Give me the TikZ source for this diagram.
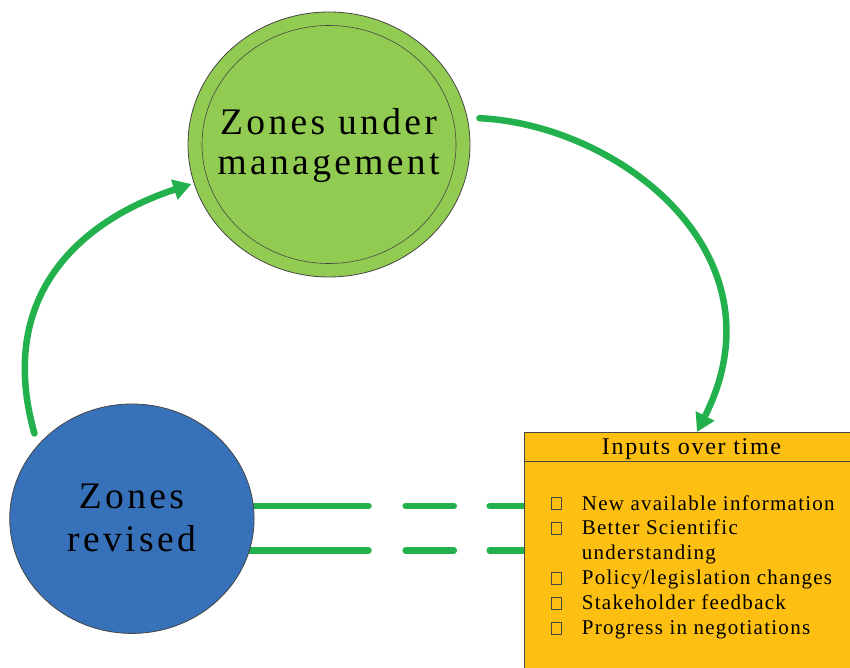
\documentclass[tikz,border=0pt]{standalone}
\usepackage{fontspec}
\setmainfont{Liberation Serif}
\newfontfamily\circfont{Liberation Serif}[LetterSpace=9]
\newfontfamily\headfont{Liberation Serif}[LetterSpace=7]
\newfontfamily\listfont{Liberation Serif}[LetterSpace=6]
\usetikzlibrary{shapes.geometric,arrows.meta,calc}
\pgfdeclarelayer{bg}
\pgfsetlayers{bg,main}
\definecolor{arrowgreen}{RGB}{34,177,76}
\definecolor{leafgreen}{RGB}{146,203,82}
\definecolor{zoneblue}{RGB}{55,113,185}
\definecolor{amber}{RGB}{253,191,17}
\definecolor{edgegray}{RGB}{70,70,70}
\begin{document}
\begin{tikzpicture}[x=1pt,y=1pt,
  zone/.style={ellipse, inner sep=0pt, draw=edgegray, line width=0.8pt},
  zonetext/.style={font=\circfont\fontsize{37.5}{40}\selectfont, anchor=base, inner sep=0pt, text=black},
  flow/.style={draw=arrowgreen, line width=6.5pt, line cap=round, -{Triangle[width=20pt,length=18pt]}},
  link/.style={draw=arrowgreen, line width=6.5pt, line cap=round, dash pattern=on 34.3pt off 35.9pt on 48.1pt off 37.2pt on 600pt},
  itemtext/.style={font=\listfont\fontsize{21}{25}\selectfont, anchor=base west, inner sep=0pt},
  bulletbox/.style={draw=edgegray, line width=0.7pt, minimum width=10pt, minimum height=12.3pt, inner sep=0pt, anchor=south west}
]
\useasboundingbox (0,0) rectangle (850,667);

\node[zone, fill=leafgreen, minimum width=282pt, minimum height=265pt] (mgmt) at (329,522.5) {};
\node[zone, minimum width=254pt, minimum height=238pt, line width=0.6pt] (mgmtin) at (329,522.5) {};
\node[zonetext] (t1) at (328.5,532) {Zones under};
\node[zonetext] (t2) at (328.5,492) {management};

\node[zone, fill=zoneblue, minimum width=244.4pt, minimum height=229.4pt] (rev) at (131.9,148.3) {};
\node[zonetext] (t3) at (131.5,159) {Zones};
\node[zonetext] (t4) at (131.5,115.5) {revised};

\node[draw=edgegray, line width=0.8pt, fill=amber, minimum width=340pt, minimum height=250pt, anchor=north west, inner sep=0pt] (box) at (524,235) {};
\coordinate (hdl) at ($(box.north west)+(0,-29)$);
\draw[edgegray, line width=0.8pt] (hdl) -- (hdl -| box.east);
\node[font=\headfont\fontsize{24}{28}\selectfont, anchor=base, inner sep=0pt] (head) at (691.5,212.7) {Inputs over time};

\node[bulletbox] (b1) at (551,157) {};
\node[itemtext] (i1) at (581.7,157) {New available information};
\node[bulletbox] (b2) at (551,132.1) {};
\node[itemtext] (i2) at (581.7,132.1) {Better Scientific};
\node[itemtext] (i2b) at (581.7,107.2) {understanding};
\node[bulletbox] (b3) at (551,82.3) {};
\node[itemtext] (i3) at (581.7,82.3) {Policy/legislation changes};
\node[bulletbox] (b4) at (551,57.4) {};
\node[itemtext] (i4) at (581.7,57.4) {Stakeholder feedback};
\node[bulletbox] (b5) at (551,32.5) {};
\node[itemtext] (i5) at (581.7,32.5) {Progress in negotiations};

\coordinate (boxin) at ($(box.north west)+(173,0)$);
\draw[flow, shorten <=12pt] (mgmt.11) .. controls +(151.9,-7.3) and +(90,178) .. (boxin);
\draw[flow, shorten <=12pt, shorten >=2.5pt] (rev.142) .. controls +(-43.4,154.6) and +(-107,-35) .. (mgmt.196);

\begin{pgfonlayer}{bg}
\draw[link] (box.west |- rev.6) -- (rev.6);
\draw[link] (box.west |- rev.-15) -- (rev.-15);
\end{pgfonlayer}
\end{tikzpicture}
\end{document}
